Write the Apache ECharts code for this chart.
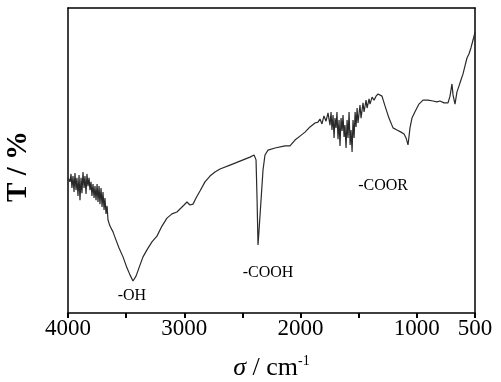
<!DOCTYPE html>
<html>
<head>
<meta charset="utf-8">
<script src="https://cdn.jsdelivr.net/npm/echarts@6/dist/echarts.min.js"></script>
<style>
  html, body { margin: 0; padding: 0; background: #fff; }
  #chart { width: 501px; height: 382px; }
</style>
</head>
<body>
<div id="chart"></div>
<script>
// wavenumber (cm-1) and transmittance
const wavenumbers = [
  4000, 3983, 3974, 3966, 3957, 3948, 3940, 3931, 3923, 3914, 3905, 3897, 3888, 3880, 3871, 3862,
  3854, 3845, 3837, 3828, 3819, 3811, 3802, 3794, 3785, 3776, 3768, 3759, 3750, 3742, 3733, 3725,
  3716, 3707, 3699, 3690, 3682, 3673, 3664, 3656, 3639, 3613, 3587, 3561, 3527, 3493, 3467, 3441,
  3415, 3381, 3355, 3321, 3278, 3235, 3192, 3149, 3106, 3063, 3037, 3002, 2977, 2951, 2925, 2899,
  2865, 2822, 2779, 2736, 2693, 2607, 2521, 2435, 2400, 2383, 2374, 2366, 2357, 2340, 2323, 2306,
  2280, 2220, 2134, 2091, 2048, 2005, 1962, 1919, 1876, 1850, 1833, 1816, 1799, 1781, 1764, 1747,
  1738, 1730, 1721, 1712, 1704, 1695, 1687, 1678, 1669, 1661, 1652, 1643, 1635, 1626, 1618, 1609,
  1600, 1592, 1583, 1574, 1566, 1557, 1549, 1540, 1531, 1523, 1514, 1506, 1489, 1480, 1463, 1454,
  1437, 1428, 1411, 1403, 1385, 1368, 1351, 1334, 1317, 1300, 1274, 1240, 1205, 1171, 1136, 1110,
  1093, 1076, 1059, 1042, 1016, 982, 947, 904, 861, 827, 801, 767, 732, 715, 698, 689,
  672, 655, 638, 621, 603, 586, 569, 552, 535, 517, 500
];
const transmittance = [
  44.3, 43.0, 45.6, 41.0, 44.9, 39.7, 45.9, 40.3, 44.3, 38.4, 45.2, 37.0, 44.3, 39.3, 46.2, 41.0,
  44.9, 39.0, 45.6, 41.6, 44.3, 40.3, 43.0, 38.4, 42.3, 37.7, 41.6, 37.0, 42.3, 36.4, 41.6, 35.7,
  41.0, 34.8, 39.7, 33.8, 37.7, 32.5, 35.1, 30.5, 28.5, 26.6, 23.9, 21.3, 18.4, 14.8, 12.5, 10.5,
  12.1, 15.7, 18.4, 20.7, 23.3, 25.2, 28.5, 31.1, 32.5, 33.1, 34.1, 35.4, 36.4, 35.4, 35.7, 37.7,
  40.0, 43.0, 44.9, 46.2, 47.2, 48.5, 49.8, 51.1, 51.8, 50.2, 37.0, 22.3, 27.2, 37.0, 46.9, 51.8,
  53.4, 54.1, 54.8, 54.8, 56.7, 58.0, 59.3, 61.0, 62.3, 62.6, 63.6, 62.0, 64.6, 62.9, 65.6, 61.6,
  65.9, 60.0, 64.9, 57.4, 63.9, 60.7, 65.9, 57.0, 63.3, 54.8, 63.9, 59.7, 64.9, 57.7, 61.6, 54.1,
  63.3, 57.4, 65.9, 55.1, 60.0, 52.8, 63.3, 57.4, 65.9, 61.0, 67.2, 62.3, 68.2, 63.9, 68.9, 65.9,
  69.8, 67.2, 70.2, 68.5, 70.8, 69.8, 71.1, 71.8, 72.1, 71.1, 67.9, 63.9, 60.7, 60.0, 59.3, 58.7,
  57.4, 55.1, 60.7, 63.9, 66.0, 68.5, 69.8, 69.8, 69.5, 69.2, 69.5, 68.9, 68.9, 71.1, 75.1, 71.5,
  68.5, 72.5, 74.4, 76.4, 78.4, 81.0, 83.6, 84.9, 86.9, 89.5, 92.1
];
const xTickLabels = [4000, 3000, 2000, 1000, 500];
const bandNames = ['-OH', '-COOH', '-COOR'];
const bandPositions = [[3450, 5.6], [2280, 13.1], [1291, 41.6]];

const chart = echarts.init(document.getElementById('chart'));
const font = 'Liberation Serif';
const frameLine = { show: true, onZero: false, lineStyle: { color: '#000', width: 1.5 } };

chart.setOption({
  animation: false,
  backgroundColor: '#fff',
  grid: {
    left: 68, right: 26, top: 8, bottom: 69,
    outerBoundsMode: 'none'
  },
  xAxis: [{
    type: 'value',
    position: 'bottom',
    inverse: true,
    min: 500, max: 4000, interval: 500,
    splitLine: { show: false },
    axisLine: frameLine,
    axisTick: { show: true, inside: false, length: 5, lineStyle: { color: '#000', width: 2 } },
    axisLabel: {
      color: '#000', fontFamily: font, fontSize: 23, margin: 4,
      formatter: v => xTickLabels.indexOf(v) >= 0 ? String(v) : ''
    },
    name: '{i|σ} / cm{s|-1}',
    nameLocation: 'middle',
    nameGap: 41,
    nameTextStyle: {
      color: '#000', fontFamily: font, fontSize: 26,
      rich: {
        i: { fontFamily: font, fontSize: 26, fontStyle: 'italic', color: '#000' },
        s: { fontFamily: font, fontSize: 14, verticalAlign: 'top', padding: [0, 0, 14, 0], color: '#000' }
      }
    }
  }, {
    type: 'value',
    position: 'top',
    inverse: true,
    min: 500, max: 4000,
    splitLine: { show: false },
    axisLine: frameLine,
    axisTick: { show: false },
    axisLabel: { show: false }
  }],
  yAxis: [{
    type: 'value',
    position: 'left',
    min: 0, max: 100,
    splitLine: { show: false },
    axisLine: frameLine,
    axisTick: { show: false },
    axisLabel: { show: false },
    name: 'T / %',
    nameLocation: 'middle',
    nameGap: 35,
    nameTextStyle: {
      color: '#000', fontFamily: font, fontSize: 29, fontWeight: 'bold',
      padding: [0, 12, 0, 0]
    }
  }, {
    type: 'value',
    position: 'right',
    min: 0, max: 100,
    splitLine: { show: false },
    axisLine: frameLine,
    axisTick: { show: false },
    axisLabel: { show: false }
  }],
  series: [{
    type: 'line',
    xAxisIndex: 0,
    yAxisIndex: 0,
    data: wavenumbers.map((w, i) => [w, transmittance[i]]),
    showSymbol: false,
    lineStyle: { color: '#2a2a2a', width: 1.2 },
    markPoint: {
      symbol: 'circle',
      symbolSize: 0,
      label: { show: true, color: '#000', fontFamily: font, fontSize: 16, formatter: p => p.name },
      data: bandNames.map((n, i) => ({ name: n, coord: bandPositions[i] }))
    }
  }]
});
</script>
</body>
</html>
